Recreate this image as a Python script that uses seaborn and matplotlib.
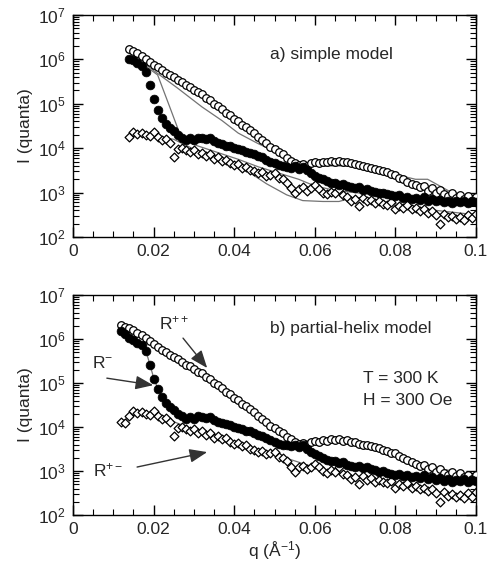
import numpy as np
import pandas as pd
import matplotlib
matplotlib.use("Agg")
import matplotlib.pyplot as plt
import matplotlib.ticker as mticker
import seaborn as sns

# ---------------- data (log10 of intensity) ----------------
q_data = [round(0.012 + 0.001 * i, 3) for i in range(89)]

rpp_log10 = [6.32, 6.28, 6.24, 6.20, 6.14, 6.08, 6.02, 5.95, 5.88, 5.82,
             5.76, 5.70, 5.64, 5.60, 5.54, 5.48, 5.42, 5.38, 5.32, 5.26,
             5.22, 5.14, 5.08, 5.00, 4.95, 4.88, 4.80, 4.74, 4.66, 4.62,
             4.52, 4.48, 4.40, 4.34, 4.25, 4.18, 4.12, 4.03, 3.98, 3.92,
             3.86, 3.78, 3.72, 3.66, 3.62, 3.64, 3.60, 3.66, 3.68, 3.66,
             3.70, 3.68, 3.72, 3.70, 3.72, 3.68, 3.70, 3.66, 3.65, 3.62,
             3.60, 3.58, 3.56, 3.54, 3.52, 3.48, 3.46, 3.42, 3.40, 3.34,
             3.30, 3.24, 3.20, 3.16, 3.12, 3.14, 3.04, 3.10, 2.98, 3.05,
             2.96, 2.92, 2.98, 2.88, 2.95, 2.86, 2.92, 2.82, 2.90]

rmm_log10 = [6.18, 6.12, 6.02, 5.98, 5.92, 5.86, 5.72, 5.42, 5.10, 4.86,
             4.68, 4.55, 4.45, 4.38, 4.30, 4.24, 4.18, 4.22, 4.18, 4.24,
             4.22, 4.20, 4.22, 4.16, 4.12, 4.10, 4.06, 4.04, 4.00, 3.98,
             3.96, 3.92, 3.90, 3.86, 3.82, 3.80, 3.74, 3.70, 3.66, 3.62,
             3.60, 3.58, 3.56, 3.60, 3.54, 3.58, 3.50, 3.44, 3.38, 3.34,
             3.30, 3.26, 3.22, 3.22, 3.18, 3.20, 3.14, 3.12, 3.10, 3.12,
             3.06, 3.08, 3.04, 3.02, 2.98, 3.00, 2.96, 2.94, 2.92, 2.94,
             2.88, 2.90, 2.86, 2.88, 2.84, 2.90, 2.82, 2.86, 2.80, 2.84,
             2.78, 2.82, 2.76, 2.80, 2.78, 2.82, 2.76, 2.80, 2.78]

rpm_log10 = [4.12, 4.10, 4.26, 4.36, 4.32, 4.34, 4.30, 4.28, 4.36, 4.26,
             4.18, 4.20, 4.12, 3.80, 3.98, 4.00, 3.96, 3.92, 3.96, 3.86,
             3.90, 3.82, 3.86, 3.76, 3.80, 3.72, 3.74, 3.66, 3.62, 3.64,
             3.56, 3.58, 3.50, 3.48, 3.44, 3.46, 3.38, 3.40, 3.44, 3.32,
             3.30, 3.22, 3.10, 2.98, 3.08, 3.12, 3.04, 3.10, 3.16, 3.08,
             3.00, 2.96, 3.02, 2.98, 3.08, 2.94, 2.90, 2.82, 2.86, 2.70,
             2.88, 2.80, 2.84, 2.76, 2.80, 2.74, 2.72, 2.78, 2.62, 2.70,
             2.66, 2.72, 2.62, 2.66, 2.58, 2.62, 2.54, 2.58, 2.50, 2.30,
             2.52, 2.44, 2.48, 2.40, 2.46, 2.38, 2.50, 2.42, 2.52]

# model curves, panel a (simple model)
fa_pp_q = [0.014, 0.020, 0.026, 0.032, 0.037, 0.041, 0.046, 0.052, 0.056, 0.062,
           0.070, 0.078, 0.085, 0.088, 0.092, 0.096, 0.100]
fa_pp_log10 = [6.18, 5.75, 5.35, 4.93, 4.62, 4.34, 4.10, 3.85, 3.62, 3.60,
               3.60, 3.45, 3.30, 3.30, 3.10, 2.90, 2.85]
fa_mm_q = [0.014, 0.018, 0.021, 0.024, 0.0266, 0.028, 0.031, 0.036, 0.041, 0.046,
           0.051, 0.056, 0.060, 0.065, 0.070, 0.080, 0.090, 0.100]
fa_mm_log10 = [6.00, 5.85, 5.65, 4.93, 4.30, 4.15, 4.05, 3.90, 3.75, 3.58,
               3.44, 3.30, 3.15, 3.05, 3.00, 2.90, 2.80, 2.75]
fa_pm_q = [0.014, 0.020, 0.025, 0.0315, 0.037, 0.043, 0.048, 0.053, 0.057, 0.062,
           0.066, 0.070, 0.080, 0.090, 0.100]
fa_pm_log10 = [4.35, 4.28, 4.20, 3.91, 3.75, 3.50, 3.20, 2.95, 2.82, 2.80,
               2.80, 2.90, 2.75, 2.60, 2.50]

# model curves, panel b (partial-helix model)
fb_pp_q = [0.012, 0.020, 0.030, 0.040, 0.050, 0.055, 0.065, 0.075, 0.085, 0.100]
fb_pp_log10 = [6.32, 5.88, 5.32, 4.66, 3.98, 3.68, 3.70, 3.54, 3.18, 2.88]
fb_mm_q = [0.012, 0.016, 0.018, 0.019, 0.020, 0.021, 0.023, 0.026, 0.030, 0.040,
           0.050, 0.060, 0.070, 0.080, 0.100]
fb_mm_log10 = [6.18, 5.94, 5.75, 5.45, 5.12, 4.88, 4.56, 4.30, 4.20, 4.00,
               3.66, 3.40, 3.10, 2.92, 2.78]
fb_pm_q = [0.012, 0.016, 0.020, 0.030, 0.040, 0.050, 0.060, 0.070, 0.080, 0.090, 0.100]
fb_pm_log10 = [4.12, 4.33, 4.30, 3.94, 3.62, 3.38, 3.08, 2.86, 2.68, 2.50, 2.46]

x_ticks = [0, 0.02, 0.04, 0.06, 0.08, 0.1]
x_tick_labels = ["0", "0.02", "0.04", "0.06", "0.08", "0.1"]
y_ticks = [1e2, 1e3, 1e4, 1e5, 1e6, 1e7]

# ---------------- style ----------------
sns.set_theme(style="white")
plt.rcParams["font.family"] = ["Liberation Sans", "DejaVu Sans"]
plt.rcParams["mathtext.fontset"] = "custom"
plt.rcParams["mathtext.rm"] = "Liberation Sans"
plt.rcParams["mathtext.it"] = "Liberation Sans"
plt.rcParams["mathtext.default"] = "regular"

FS = 12.5
data = pd.DataFrame({"q": q_data,
                     "Rpp": np.power(10.0, rpp_log10),
                     "Rmm": np.power(10.0, rmm_log10),
                     "Rpm": np.power(10.0, rpm_log10)})

fig = plt.figure(figsize=(4.89, 5.70), dpi=100)
ax_a = fig.add_axes([73 / 489, 1 - 237 / 570, 403 / 489, 222 / 570])
ax_b = fig.add_axes([73 / 489, 1 - 515 / 570, 403 / 489, 220 / 570])

line_kw = dict(color="0.45", linewidth=0.9, sort=False, estimator=None, legend=False)


def draw_panel(ax, qmin, fits):
    d = data[data["q"] >= qmin - 1e-9]
    for fq, fl in fits:
        sns.lineplot(x=fq, y=np.power(10.0, fl), ax=ax, zorder=1, **line_kw)
    sns.scatterplot(data=d, x="q", y="Rpm", ax=ax, marker="D", s=20,
                    facecolor="white", edgecolor="black", linewidth=0.9, zorder=2, legend=False)
    sns.scatterplot(data=d, x="q", y="Rpp", ax=ax, marker="o", s=30,
                    facecolor="white", edgecolor="black", linewidth=0.9, zorder=3, legend=False)
    sns.scatterplot(data=d, x="q", y="Rmm", ax=ax, marker="o", s=40,
                    color="black", edgecolor="black", linewidth=0.5, zorder=4, legend=False)
    ax.set_yscale("log")
    ax.set_xlim(0, 0.1)
    ax.set_ylim(1e2, 1e7)
    ax.set_xticks(x_ticks)
    ax.set_xticklabels(x_tick_labels)
    ax.xaxis.set_minor_locator(mticker.MultipleLocator(0.005))
    ax.yaxis.set_major_locator(mticker.FixedLocator(y_ticks))
    ax.yaxis.set_major_formatter(mticker.FuncFormatter(
        lambda v, p: r"$10^{%d}$" % int(round(np.log10(v)))))
    ax.yaxis.set_minor_locator(mticker.LogLocator(base=10, subs=np.arange(2, 10), numticks=20))
    ax.yaxis.set_minor_formatter(mticker.NullFormatter())
    ax.tick_params(which="both", direction="in", top=True, right=True,
                   bottom=True, left=True, color="black")
    ax.tick_params(which="major", length=7, width=1.0, labelsize=FS, pad=5)
    ax.tick_params(which="minor", length=4, width=0.8)
    for s in ax.spines.values():
        s.set_color("black")
        s.set_linewidth(1.0)
    ax.set_ylabel("I (quanta)", fontsize=FS, labelpad=4)
    ax.set_xlabel("")


draw_panel(ax_a, 0.014, [(fa_pp_q, fa_pp_log10), (fa_mm_q, fa_mm_log10), (fa_pm_q, fa_pm_log10)])
draw_panel(ax_b, 0.012, [(fb_pp_q, fb_pp_log10), (fb_mm_q, fb_mm_log10), (fb_pm_q, fb_pm_log10)])

ax_a.text(0.0489, 10 ** 6.10, "a) simple model", fontsize=FS, va="center", ha="left")
ax_b.text(0.0489, 10 ** 6.25, "b) partial-helix model", fontsize=FS, va="center", ha="left")
ax_b.text(0.072, 10 ** 5.11, "T = 300 K", fontsize=FS, va="center", ha="left")
ax_b.text(0.072, 10 ** 4.61, "H = 300 Oe", fontsize=FS, va="center", ha="left")
ax_b.set_xlabel("q (Å$^{-1}$)", fontsize=FS, labelpad=2)

arrow = dict(arrowstyle="-|>,head_length=0.9,head_width=0.35", color="0.2",
             linewidth=1.0, shrinkA=0, shrinkB=0)
ax_b.text(0.0252, 10 ** 6.35, "R$^{++}$", fontsize=FS, va="center", ha="center")
ax_b.annotate("", xy=(0.0333, 10 ** 5.34), xytext=(0.0273, 10 ** 6.02), arrowprops=arrow)
ax_b.text(0.0074, 10 ** 5.45, "R$^{-}$", fontsize=FS, va="center", ha="center")
ax_b.annotate("", xy=(0.0199, 10 ** 4.95), xytext=(0.0084, 10 ** 5.11), arrowprops=arrow)
ax_b.text(0.0087, 10 ** 3.02, "R$^{+-}$", fontsize=FS, va="center", ha="center")
ax_b.annotate("", xy=(0.0333, 10 ** 3.43), xytext=(0.0159, 10 ** 3.09), arrowprops=arrow)

fig.savefig("out.png", dpi=100)
